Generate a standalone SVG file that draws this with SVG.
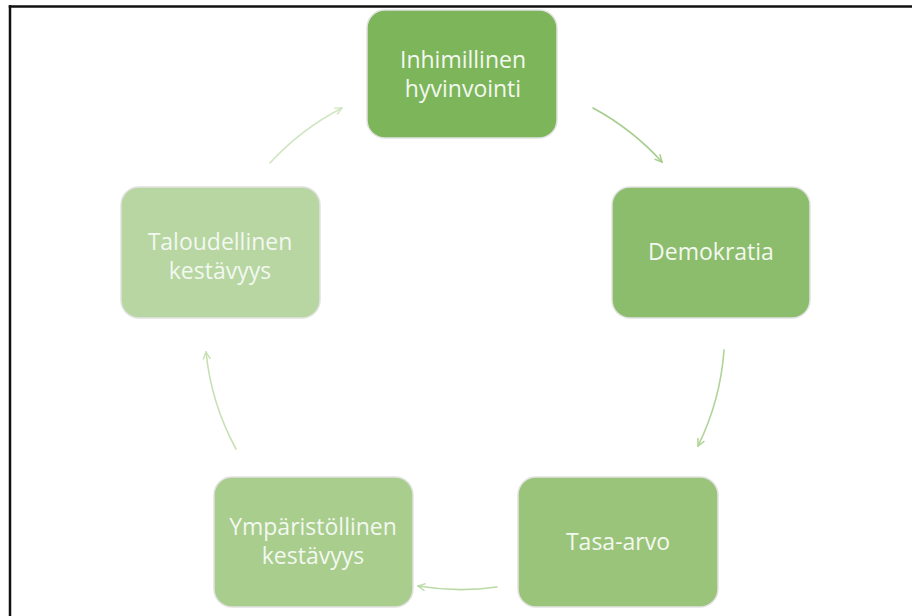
<svg xmlns="http://www.w3.org/2000/svg" width="912" height="616" viewBox="0 0 912 616">
  <defs>
    <style>
      .box { stroke: #e2e2e2; stroke-width: 1.5; }
      .lbl { font-family: "Open Sans", "Liberation Sans", sans-serif; font-size: 23px; fill: #f3f8f0; text-anchor: middle; }
      .arc { fill: none; stroke-width: 1.6; stroke-linecap: round; }
    </style>
    <marker id="head1" viewBox="0 0 10 10" refX="9" refY="5" markerWidth="9" markerHeight="9" markerUnits="userSpaceOnUse" orient="auto">
      <path d="M1,1 L9,5 L1,9" fill="none" stroke="#a6cd8b" stroke-width="1.6"/>
    </marker>
    <marker id="head2" viewBox="0 0 10 10" refX="9" refY="5" markerWidth="9" markerHeight="9" markerUnits="userSpaceOnUse" orient="auto">
      <path d="M1,1 L9,5 L1,9" fill="none" stroke="#b0d398" stroke-width="1.6"/>
    </marker>
    <marker id="head3" viewBox="0 0 10 10" refX="9" refY="5" markerWidth="9" markerHeight="9" markerUnits="userSpaceOnUse" orient="auto">
      <path d="M1,1 L9,5 L1,9" fill="none" stroke="#badaa5" stroke-width="1.6"/>
    </marker>
    <marker id="head4" viewBox="0 0 10 10" refX="9" refY="5" markerWidth="9" markerHeight="9" markerUnits="userSpaceOnUse" orient="auto">
      <path d="M1,1 L9,5 L1,9" fill="none" stroke="#c6e0b4" stroke-width="1.6"/>
    </marker>
    <marker id="head5" viewBox="0 0 10 10" refX="9" refY="5" markerWidth="9" markerHeight="9" markerUnits="userSpaceOnUse" orient="auto">
      <path d="M1,1 L9,5 L1,9" fill="none" stroke="#d0e6c2" stroke-width="1.6"/>
    </marker>
  </defs>

  <rect x="0" y="0" width="912" height="616" fill="#ffffff"/>

  <!-- frame: top and left edges -->
  <g id="frame" stroke="#111111" stroke-width="2.5" fill="none">
    <line x1="8.75" y1="6.5" x2="912" y2="6.5"/>
    <line x1="10" y1="5.25" x2="10" y2="616"/>
  </g>

  <!-- cycle connectors: arcs on a circle centred at (465,331), r = 258 -->
  <g id="connectors" class="connectors">
    <path class="arc" stroke="#a6cd8b" marker-end="url(#head1)" d="M593,108 A258,258 0 0 1 662,162"/>
    <path class="arc" stroke="#b0d398" marker-end="url(#head2)" d="M724,350 A258,258 0 0 1 698,446"/>
    <path class="arc" stroke="#badaa5" marker-end="url(#head3)" d="M497,587 A258,258 0 0 1 418,586"/>
    <path class="arc" stroke="#c6e0b4" marker-end="url(#head4)" d="M236,449 A258,258 0 0 1 206,352"/>
    <path class="arc" stroke="#d0e6c2" marker-end="url(#head5)" d="M270,163 A258,258 0 0 1 342,108"/>
  </g>

  <g id="node-inhimillinen">
    <rect class="box" x="367" y="10" width="190" height="128" rx="18" fill="#7db55b"/>
    <text class="lbl" x="463" y="68">Inhimillinen</text>
    <text class="lbl" x="463" y="97">hyvinvointi</text>
  </g>

  <g id="node-demokratia">
    <rect class="box" x="612" y="187" width="198" height="131" rx="18" fill="#8cbd6c"/>
    <text class="lbl" x="711" y="260">Demokratia</text>
  </g>

  <g id="node-tasa-arvo">
    <rect class="box" x="518" y="477" width="200" height="130" rx="18" fill="#9bc47b"/>
    <text class="lbl" x="618" y="550">Tasa-arvo</text>
  </g>

  <g id="node-ymparistollinen">
    <rect class="box" x="214" y="477" width="199" height="130" rx="18" fill="#a8cd8d"/>
    <text class="lbl" x="313" y="535">Ympäristöllinen</text>
    <text class="lbl" x="313" y="564">kestävyys</text>
  </g>

  <g id="node-taloudellinen">
    <rect class="box" x="121" y="187" width="199" height="131" rx="18" fill="#b7d6a2"/>
    <text class="lbl" x="220" y="250">Taloudellinen</text>
    <text class="lbl" x="220" y="279">kestävyys</text>
  </g>
</svg>
